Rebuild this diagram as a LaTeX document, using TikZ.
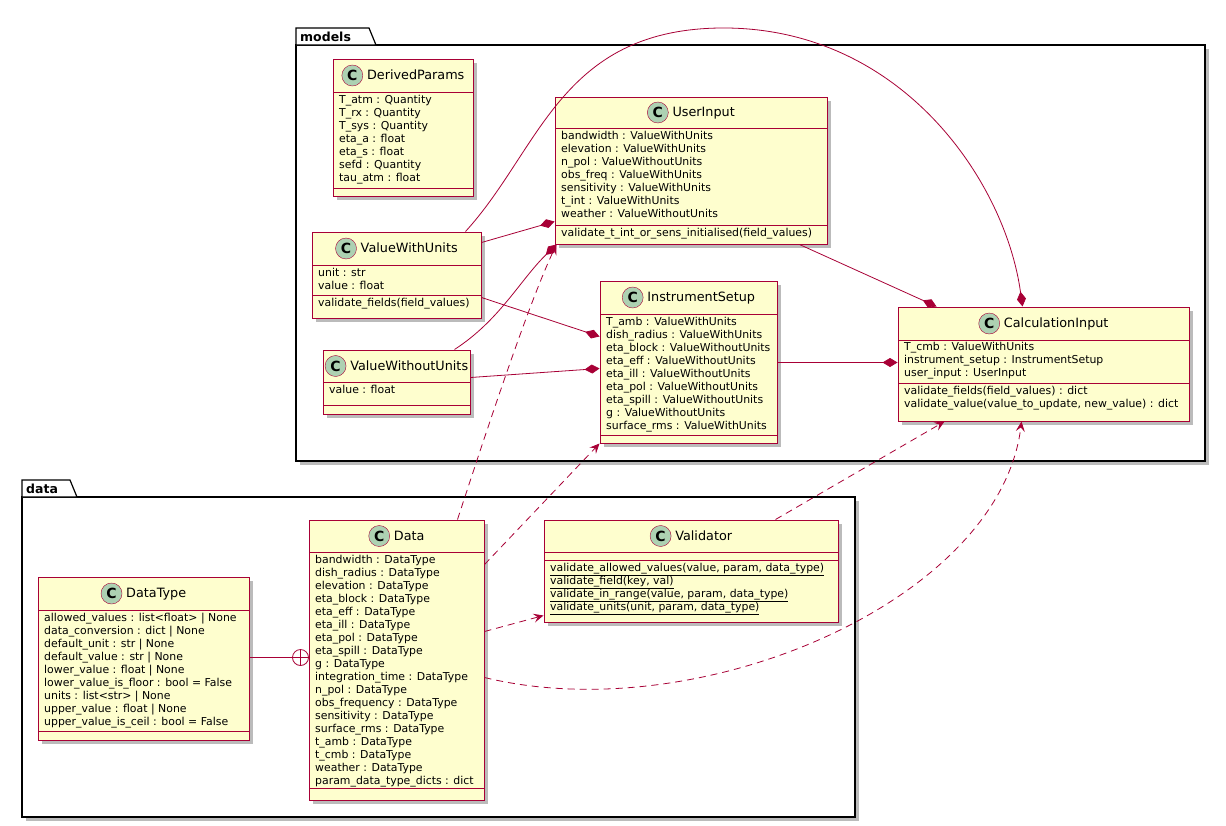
\documentclass[tikz,border=0pt]{standalone}
\usepackage{fontspec}
\setmainfont{DejaVu Sans}
\usetikzlibrary{arrows.meta,calc}
\definecolor{bd}{HTML}{A80036}
\definecolor{bg}{HTML}{FEFECE}
\definecolor{cc}{HTML}{ADD1B2}
\definecolor{sh}{HTML}{BBBBBB}
\newcommand\circC{\tikz[baseline=-0.6ex]\node[circle,fill=cc,draw=bd,inner sep=0pt,minimum size=21pt,font=\bfseries\fontsize{14}{14}\selectfont]{C};}
\newcommand\umlcls[8]{%
  \fill[sh] (#2+4,#3+4) rectangle (#4+4,#5+4);
  \node[draw=bd,fill=bg,line width=1pt,inner sep=0pt,minimum width={(#4-#2)*1pt},minimum height={(#5-#3)*1pt}] (#1) at ({(#2+#4)/2},{(#3+#5)/2}) {};
  \draw[bd,line width=1pt] (#2,#6) -- (#4,#6);
  \draw[bd,line width=1pt] (#2,#7) -- (#4,#7);
  \node[font=\fontsize{12.8}{14}\selectfont,inner sep=0pt] at ({(#2+#4)/2},{(#3+#6)/2}) {\circC\hspace{4pt}#8};
}
\tikzset{
  txt/.style={anchor=north west,align=left,inner sep=0pt,font=\fontsize{10.9}{13}\selectfont},
  comp/.style={bd,line width=0.8pt,-{Diamond[length=15pt,width=9pt,fill=bd]}},
  dep/.style={bd,line width=0.8pt,dash pattern=on 7pt off 5pt,-{Stealth[length=10pt,width=9pt,inset=4pt]}},
  pkg/.style={draw=black,line width=1.2pt,fill=white},
  pkglbl/.style={anchor=west,inner sep=0pt,font=\bfseries\fontsize{12.5}{14}\selectfont}
}
\begin{document}
\begin{tikzpicture}[x=1pt,y=-1pt]
\useasboundingbox[fill=white] (0,0) rectangle (1226,825);
% packages
\fill[sh] (300,49) rectangle (1209,465);
\draw[pkg] (296,45) rectangle (1205,461);
\draw[pkg] (296,45) -- (296,28) -- (369,28) -- (376,45) -- cycle;
\node[pkglbl] (pm) at (300,37) {models};
\fill[sh] (26,501) rectangle (859,821);
\draw[pkg] (22,497) rectangle (855,817);
\draw[pkg] (22,497) -- (22,480) -- (70,480) -- (77,497) -- cycle;
\node[pkglbl] (pd) at (26,489) {data};
% classes
\umlcls{dp}{333}{59}{473}{196}{92}{188}{DerivedParams}
\node[txt] (dpa) at (339,95) {T\_atm : Quantity\\T\_rx : Quantity\\T\_sys : Quantity\\eta\_a : float\\eta\_s : float\\sefd : Quantity\\tau\_atm : float};
\umlcls{vwu}{312}{232}{481}{318}{265}{295}{ValueWithUnits}
\node[txt] (vwua) at (318,268) {unit : str\\value : float};
\node[txt] (vwum) at (318,298) {validate\_fields(field\_values)};
\umlcls{vwo}{323}{350}{470}{414}{382}{405}{ValueWithoutUnits}
\node[txt] (vwoa) at (329,385) {value : float};
\umlcls{ui}{555}{97}{827}{244}{128}{225}{UserInput}
\node[txt] (uia) at (561,131) {bandwidth : ValueWithUnits\\elevation : ValueWithUnits\\n\_pol : ValueWithoutUnits\\obs\_freq : ValueWithUnits\\sensitivity : ValueWithUnits\\t\_int : ValueWithUnits\\weather : ValueWithoutUnits};
\node[txt] (uim) at (561,228) {validate\_t\_int\_or\_sens\_initialised(field\_values)};
\umlcls{is}{600}{281}{777}{443}{314}{435}{InstrumentSetup}
\node[txt] (isa) at (606,317) {T\_amb : ValueWithUnits\\dish\_radius : ValueWithUnits\\eta\_block : ValueWithoutUnits\\eta\_eff : ValueWithoutUnits\\eta\_ill : ValueWithoutUnits\\eta\_pol : ValueWithoutUnits\\eta\_spill : ValueWithoutUnits\\g : ValueWithoutUnits\\surface\_rms : ValueWithUnits};
\umlcls{ci}{898}{307}{1189}{421}{340}{383}{CalculationInput}
\node[txt] (cia) at (904,342) {T\_cmb : ValueWithUnits\\instrument\_setup : InstrumentSetup\\user\_input : UserInput};
\node[txt] (cim) at (904,386) {validate\_fields(field\_values) : dict\\validate\_value(value\_to\_update, new\_value) : dict};
\umlcls{dt}{38}{577}{249}{740}{610}{731}{DataType}
\node[txt] (dta) at (44,613) {allowed\_values : list<float> | None\\data\_conversion : dict | None\\default\_unit : str | None\\default\_value : str | None\\lower\_value : float | None\\lower\_value\_is\_floor : bool = False\\units : list<str> | None\\upper\_value : float | None\\upper\_value\_is\_ceil : bool = False};
\umlcls{data}{309}{520}{484}{800}{552}{788}{Data}
\node[txt] (dataa) at (315,555) {bandwidth : DataType\\dish\_radius : DataType\\elevation : DataType\\eta\_block : DataType\\eta\_eff : DataType\\eta\_ill : DataType\\eta\_pol : DataType\\eta\_spill : DataType\\g : DataType\\integration\_time : DataType\\n\_pol : DataType\\obs\_frequency : DataType\\sensitivity : DataType\\surface\_rms : DataType\\t\_amb : DataType\\t\_cmb : DataType\\weather : DataType\\param\_data\_type\_dicts : dict};
\umlcls{val}{544}{520}{838}{622}{552}{560}{Validator}
\node[txt] (valm) at (550,563) {\underline{validate\_allowed\_values(value, param, data\_type)}\\\underline{validate\_field(key, val)}\\\underline{validate\_in\_range(value, param, data\_type)}\\\underline{validate\_units(unit, param, data\_type)}};
% connectors
\draw[comp] ($(vwu.north west)+(154,0)$) .. controls (540,150) and (560,30) .. (720,28) .. controls (900,26) and (1005,180) .. ($(ci.north west)+(125,0)$);
\draw[comp] ($(vwu.north east)+(0,11)$) -- ($(ui.north west)+(0,125)$);
\draw[comp] ($(vwu.north east)+(0,66)$) -- ($(is.north west)+(0,56)$);
\draw[comp] ($(vwo.north west)+(132,0)$) .. controls (500,320) and (520,280) .. ($(ui.south west)+(2,0)$);
\draw[comp] ($(vwo.north east)+(0,28)$) -- ($(is.north west)+(0,88)$);
\draw[comp] ($(ui.south west)+(245,0)$) -- ($(ci.north west)+(39,0)$);
\draw[comp] ($(is.north east)+(0,82)$) -- ($(ci.north west)+(0,56)$);
\draw[dep] ($(data.north west)+(149,0)$) .. controls (490,420) and (530,300) .. ($(ui.south west)+(2,0)$);
\draw[dep] ($(data.north east)+(0,45)$) -- (is.south west);
\draw[dep] ($(data.north east)+(0,112)$) -- ($(val.south west)+(0,-7)$);
\draw[dep] ($(data.north east)+(0,158)$) .. controls (700,730) and (1000,600) .. ($(ci.south west)+(124,0)$);
\draw[dep] ($(val.north west)+(232,0)$) -- ($(ci.south west)+(47,0)$);
\node[circle,draw=bd,fill=white,line width=0.8pt,inner sep=0pt,minimum size=16pt] (cp) at ($(data.north west)+(-8,138)$) {};
\draw[bd,line width=0.8pt] (cp.north) -- (cp.south) (cp.west) -- (cp.east);
\draw[bd,line width=0.8pt] ($(dt.north east)+(0,81)$) -- (cp.west);
\end{tikzpicture}
\end{document}
